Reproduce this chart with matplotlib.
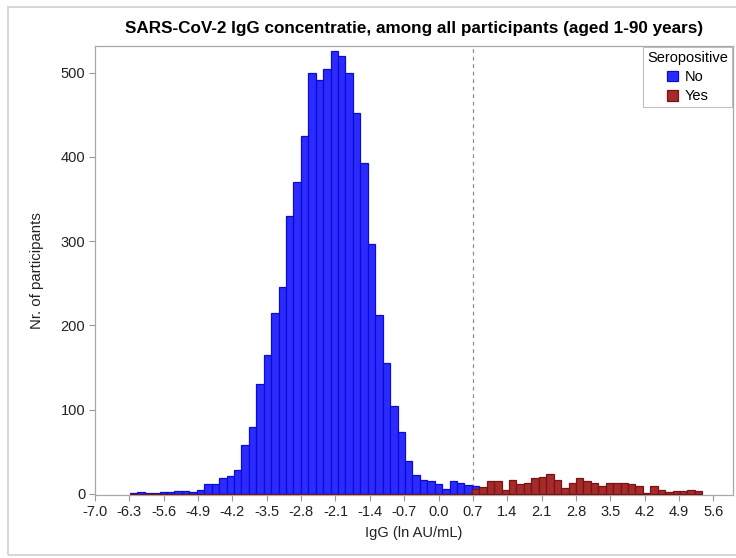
import numpy as np
import matplotlib.pyplot as plt
from matplotlib.patches import Rectangle

plt.rcParams['font.family'] = ['Liberation Sans', 'DejaVu Sans']
plt.rcParams['axes.unicode_minus'] = False

# histogram bins (ln AU/mL)
bin_start = -6.29
bin_width = 0.1515
n_bins = 77

# counts per bin
no_counts = [1, 2, 1, 1, 2, 2, 4, 4, 2, 5,
             12, 12, 19, 21, 29, 58, 80, 130, 165, 215,
             246, 330, 370, 425, 499, 491, 504, 525, 520, 499,
             452, 393, 297, 212, 155, 104, 73, 39, 23, 17,
             15, 12, 6, 15, 13, 11, 10]
yes_counts = [0] * 46 + [6, 8, 15, 16, 5, 17, 12, 13, 19, 20,
                         24, 17, 7, 13, 19, 16, 13, 10, 13, 13,
                         13, 12, 9, 1, 9, 5, 2, 4, 4, 5, 3]

cutoff = 0.7
xticks = np.round(np.arange(-7.0, 5.61, 0.7), 1)
yticks = [0, 100, 200, 300, 400, 500]

edges = bin_start + bin_width * np.arange(n_bins + 1)

fig = plt.figure(figsize=(7.36, 5.58), dpi=100)
ax = fig.add_axes([95/736, 1 - 495/558, 638/736, 449/558])

ax.bar(edges[:len(no_counts)], no_counts, width=bin_width, align='edge',
       color='#2b2bff', edgecolor='#0c0cd0', linewidth=0.9, label='No', zorder=2)
ax.bar(edges[:len(yes_counts)], yes_counts, width=bin_width, align='edge',
       color='#a52a2a', edgecolor='#7a1414', linewidth=0.9, label='Yes', zorder=3)

ax.axvline(cutoff, color='#8c8c8c', linestyle=(0, (3, 3)), linewidth=0.9, zorder=1)

ax.set_xlim(-7.0, 6.0)
ax.set_ylim(-1.2, 531.5)
ax.set_xticks(xticks)
ax.set_xticklabels([f"{v:.1f}" for v in xticks])
ax.set_yticks(yticks)
ax.tick_params(axis='both', labelsize=10.5, color='#9a9a9a', length=4, width=0.8,
               labelcolor='#222222', pad=3)
for s in ax.spines.values():
    s.set_color('#a8a8a8')
    s.set_linewidth(0.9)

ax.set_xlabel("IgG (ln AU/mL)", fontsize=10.5, color='#222222', labelpad=5)
ax.set_ylabel("Nr. of participants", fontsize=10.8, color='#222222', labelpad=12)
ax.set_title("SARS-CoV-2 IgG concentratie, among all participants (aged 1-90 years)",
             fontsize=12.3, fontweight='bold', pad=9)

leg = ax.legend(title='Seropositive', loc='upper right', fontsize=10.5, title_fontsize=10.5,
                frameon=True, fancybox=False, edgecolor='#b0b0b0', borderpad=0.25,
                handlelength=0.75, handleheight=0.75, handletextpad=0.45,
                labelspacing=0.35, borderaxespad=0.1)
leg.get_frame().set_linewidth(0.8)

# outer frame around the graph
fig.patches.append(Rectangle((8/736, 3/558), 740/736, 548/558, transform=fig.transFigure,
                             fill=False, edgecolor='#d0d0d0', linewidth=1.2))

fig.savefig('out.png', dpi=100)
